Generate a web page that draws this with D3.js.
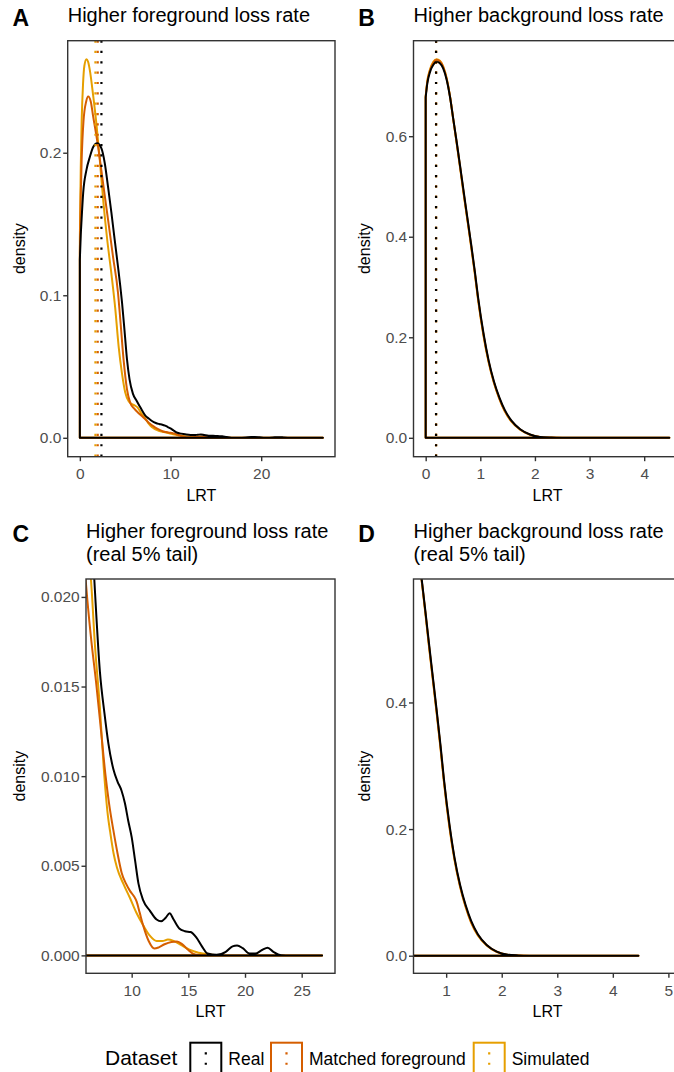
<!DOCTYPE html>
<html>
<head>
<meta charset="utf-8">
<script src="https://cdn.jsdelivr.net/npm/d3@7"></script>
<style>
  body { margin: 0; background: #fff; }
  svg { display: block; font-family: "Liberation Sans", Arial, Helvetica, sans-serif; }
</style>
</head>
<body>
<svg id="fig" width="674" height="1072"></svg>
<script>
const datasets = ["Real", "Matched foreground", "Simulated"];
const colours = ["#000000", "#D55E00", "#E69F00"];

// density curves, [LRT, density]
// higher foreground loss rate (panels A and C)
const fgReal = [[0,0.125],[0.1,0.142],[0.19,0.153],[0.37,0.172],[0.73,0.188],[1.1,0.197],[1.47,0.204],[1.91,0.2067],[2.38,0.203],[2.74,0.193],[3.11,0.176],[3.48,0.158],[3.84,0.139],[4.21,0.12],[4.45,0.107],[4.65,0.095],[4.93,0.075],[5.2,0.055],[5.48,0.041],[5.85,0.031],[6.29,0.0257],[6.7,0.021],[7.2,0.0158],[7.6,0.0135],[7.95,0.0118],[8.38,0.0104],[8.75,0.0097],[9.1,0.0092],[9.4,0.0085],[9.7,0.0075],[10.0,0.0066],[10.3,0.0053],[10.6,0.004],[11.0,0.0031],[11.6,0.0025],[12.2,0.002],[12.6,0.0019],[13.0,0.0021],[13.35,0.00235],[13.7,0.002],[14.2,0.0015],[14.7,0.00135],[15.2,0.0013],[15.7,0.001],[16.2,0.0005],[16.7,0.0001],[17.5,0.00003],[18.3,0.0002],[18.9,0.0005],[19.3,0.00055],[19.8,0.0004],[20.4,0.0001],[20.9,0.0001],[21.5,0.0003],[22.0,0.00043],[22.5,0.0002],[23.2,0.00001],[24,0],[26.8,0]];
const fgMatched = [[0,0.13],[0.1,0.17],[0.2,0.195],[0.4,0.222],[0.7,0.236],[0.92,0.2394],[1.2,0.236],[1.47,0.2254],[2.01,0.2044],[2.56,0.1787],[3.11,0.153],[3.66,0.127],[4.21,0.1016],[4.46,0.083],[4.82,0.055],[5.2,0.034],[5.56,0.0245],[6.0,0.0205],[6.4,0.0178],[6.9,0.015],[7.3,0.0125],[7.7,0.01],[8.0,0.0085],[8.38,0.007],[8.75,0.0057],[9.12,0.0046],[9.5,0.004],[9.85,0.0036],[10.2,0.0033],[10.44,0.003],[10.7,0.0024],[11.0,0.0017],[11.5,0.0008],[12.0,0.00038],[12.4,0.00045],[12.9,0.00062],[13.5,0.00075],[14.0,0.00078],[14.5,0.0006],[15.0,0.0003],[15.4,0.0001],[16.0,0.00002],[17,0],[26.8,0]];
const fgSimulated = [[0,0.14],[0.1,0.19],[0.2,0.222],[0.35,0.248],[0.5,0.261],[0.73,0.2655],[0.9,0.264],[1.1,0.258],[1.47,0.24],[1.83,0.22],[2.2,0.195],[2.6,0.165],[3.0,0.14],[3.5,0.114],[3.9,0.091],[4.28,0.064],[4.65,0.045],[5.0,0.032],[5.4,0.0255],[5.8,0.0235],[6.1,0.0225],[6.4,0.021],[6.76,0.0173],[7.2,0.0138],[7.53,0.0105],[7.9,0.0078],[8.1,0.0069],[8.4,0.0057],[8.7,0.0049],[9.26,0.004],[9.85,0.0032],[10.44,0.00235],[11.0,0.0017],[11.6,0.0011],[12.2,0.0008],[12.7,0.0008],[13.2,0.00088],[13.7,0.0008],[14.3,0.0006],[15.1,0.00032],[15.9,0.00015],[16.9,0.00005],[18,0],[26.8,0]];
const fgMedians = [2.38, 1.97, 1.72];

// higher background loss rate (panels B and D)
const bgReal = [[0,0.677],[0.03,0.705],[0.08,0.728],[0.14,0.742],[0.2,0.748],[0.26,0.745],[0.32,0.735],[0.385,0.712],[0.45,0.675],[0.5,0.638],[0.57,0.587],[0.63,0.541],[0.69,0.494],[0.75,0.448],[0.83,0.387],[0.9,0.331],[0.96,0.279],[1.06,0.207],[1.15,0.155],[1.25,0.112],[1.35,0.08],[1.45,0.055],[1.57,0.034],[1.73,0.017],[1.91,0.0065],[2.09,0.0018],[2.3,0.0005],[2.5,0.0001],[2.8,0],[4.46,0]];
const bgMatched = [[0,0.679],[0.03,0.708],[0.08,0.731],[0.14,0.746],[0.2,0.752],[0.26,0.749],[0.32,0.738],[0.385,0.714],[0.45,0.676],[0.5,0.637],[0.57,0.585],[0.63,0.539],[0.69,0.491],[0.75,0.445],[0.83,0.384],[0.9,0.328],[0.96,0.276],[1.06,0.204],[1.15,0.153],[1.25,0.11],[1.35,0.078],[1.45,0.053],[1.57,0.033],[1.73,0.0165],[1.91,0.0062],[2.09,0.0017],[2.3,0.0004],[2.5,0.0001],[2.8,0],[4.46,0]];
const bgSimulated = [[0,0.68],[0.03,0.71],[0.08,0.733],[0.14,0.748],[0.2,0.753],[0.26,0.75],[0.32,0.739],[0.385,0.715],[0.45,0.676],[0.5,0.637],[0.57,0.584],[0.63,0.537],[0.69,0.489],[0.75,0.443],[0.83,0.382],[0.9,0.326],[0.96,0.274],[1.06,0.202],[1.15,0.151],[1.25,0.109],[1.35,0.077],[1.45,0.052],[1.57,0.032],[1.73,0.016],[1.91,0.006],[2.09,0.0017],[2.3,0.0004],[2.5,0.0001],[2.8,0],[4.46,0]];
const bgMedians = [0.19, 0.19, 0.19];

// tick labels
const xTicksA = [0, 10, 20];
const yTicksA = [0, 0.1, 0.2];
const xTicksB = [0, 1, 2, 3, 4];
const yTicksB = [0, 0.2, 0.4, 0.6];
const xTicksC = [10, 15, 20, 25];
const yTicksC = [0, 0.005, 0.01, 0.015, 0.02];
const xTicksD = [1, 2, 3, 4, 5];
const yTicksD = [0, 0.2, 0.4];

const W = 674, H = 1072;
const svg = d3.select("#fig");
svg.append("rect").attr("width", W).attr("height", H).attr("fill", "#fff");

const fg = [fgReal, fgMatched, fgSimulated];
const bg = [bgReal, bgMatched, bgSimulated];

// layout of the 2x2 grid (right column runs past the edge of the image, as in the original)
const panels = [
  {tag: "A", tagX: 12.5, top: 0, title: ["Higher foreground loss rate"], box: [67.7, 40.7, 335, 456.7],
   xdom: [-1.34, 28.14], ydom: [-0.01327, 0.2786], xt: xTicksA, yt: yTicksA, yfmt: ".1f", curves: fg, vlines: fgMedians, ylabX: 24.5},
  {tag: "B", tagX: 358.3, top: 0, title: ["Higher background loss rate"], box: [413.5, 40.7, 681.5, 456.7],
   xdom: [-0.223, 4.683], ydom: [-0.0376, 0.79], xt: xTicksB, yt: yTicksB, yfmt: ".1f", curves: bg, vlines: bgMedians, ylabX: 370},
  {tag: "C", tagX: 12.5, top: 516.3, title: ["Higher foreground loss rate", "(real 5% tail)"], box: [86, 579, 335, 973.3],
   xdom: [5.97, 27.94], ydom: [-0.001, 0.021], xt: xTicksC, yt: yTicksC, yfmt: ".3f", curves: fg, vlines: fgMedians, ylabX: 24.5},
  {tag: "D", tagX: 358.3, top: 516.3, title: ["Higher background loss rate", "(real 5% tail)"], box: [413.5, 579, 681.5, 973.3],
   xdom: [0.412, 5.236], ydom: [-0.0278, 0.595], xt: xTicksD, yt: yTicksD, yfmt: ".1f", curves: bg, vlines: bgMedians, ylabX: 370}
];

const order = [2, 1, 0]; // Real drawn last, on top

panels.forEach(p => {
  const [x0, y0, x1, y1] = p.box;
  const x = d3.scaleLinear().domain(p.xdom).range([x0, x1]);
  const y = d3.scaleLinear().domain(p.ydom).range([y1, y0]);
  const g = svg.append("g");

  const clipId = "clip" + p.tag;
  svg.append("clipPath").attr("id", clipId)
    .append("rect").attr("x", x0).attr("y", y0).attr("width", x1 - x0).attr("height", y1 - y0);
  const plot = g.append("g").attr("clip-path", `url(#${clipId})`);

  const line = d3.line().x(d => x(d[0])).y(d => y(d[1])).curve(d3.curveMonotoneX);

  // density outline: up from the baseline at the minimum, along the curve, back along the baseline
  order.forEach(k => {
    const pts = p.curves[k];
    const d = `M${x(pts[0][0])},${y(0)}L` + line(pts).slice(1) + "Z";
    plot.append("path").attr("d", d)
      .attr("fill", "none").attr("stroke", colours[k])
      .attr("stroke-width", 2).attr("stroke-linejoin", "round");
  });

  order.forEach(k => {
    const xv = x(p.vlines[k]);
    plot.append("line")
      .attr("x1", xv).attr("x2", xv).attr("y1", y1).attr("y2", y0)
      .attr("stroke", colours[k]).attr("stroke-width", 2.2)
      .attr("stroke-dasharray", "2.2 8.15");
  });

  g.append("rect").attr("x", x0).attr("y", y0).attr("width", x1 - x0).attr("height", y1 - y0)
    .attr("fill", "none").attr("stroke", "#333333").attr("stroke-width", 1.4);

  const xAxis = d3.axisBottom(x).tickValues(p.xt).tickFormat(d3.format("d")).tickSize(4.5).tickPadding(7);
  const yAxis = d3.axisLeft(y).tickValues(p.yt).tickFormat(d3.format(p.yfmt)).tickSize(4.5).tickPadding(1.8);

  const gx = g.append("g").attr("transform", `translate(0,${y1})`).call(xAxis);
  const gy = g.append("g").attr("transform", `translate(${x0},0)`).call(yAxis);
  [gx, gy].forEach(ax => {
    ax.select(".domain").remove();
    ax.selectAll(".tick line").attr("stroke", "#333333").attr("stroke-width", 1.4);
    ax.selectAll(".tick text").attr("fill", "#4D4D4D")
      .style("font-size", "15.5px").style("font-family", '"Liberation Sans", Arial, sans-serif');
  });

  // axis titles
  g.append("text").attr("x", (x0 + x1) / 2).attr("y", y1 + 44)
    .attr("text-anchor", "middle").style("font-size", "16px").text("LRT");
  g.append("text")
    .attr("transform", `translate(${p.ylabX},${(y0 + y1) / 2}) rotate(-90)`)
    .attr("text-anchor", "middle").style("font-size", "16px").text("density");

  // panel tag and title
  g.append("text").attr("x", p.tagX).attr("y", p.top + 26)
    .style("font-size", "23px").style("font-weight", "bold").text(p.tag);
  p.title.forEach((t, i) => {
    g.append("text").attr("x", x0).attr("y", p.top + 22 + i * 22.5)
      .style("font-size", "20px").text(t);
  });
});

// legend
const lg = svg.append("g");
lg.append("text").attr("x", 105).attr("y", 1065).style("font-size", "21px").text("Dataset");
const keyX = [189.3, 270, 472.7];
datasets.forEach((name, k) => {
  const kx = keyX[k];
  lg.append("rect").attr("x", kx + 1).attr("y", 1042.7).attr("width", 31).attr("height", 40)
    .attr("fill", "#fff").attr("stroke", colours[k]).attr("stroke-width", 2);
  lg.append("line").attr("x1", kx + 16.5).attr("x2", kx + 16.5).attr("y1", 1052.3).attr("y2", 1082)
    .attr("stroke", colours[k]).attr("stroke-width", 2.2).attr("stroke-dasharray", "2.2 8.15");
  lg.append("text").attr("x", kx + 39).attr("y", 1065).style("font-size", "17.5px").text(name);
});
</script>
</body>
</html>
